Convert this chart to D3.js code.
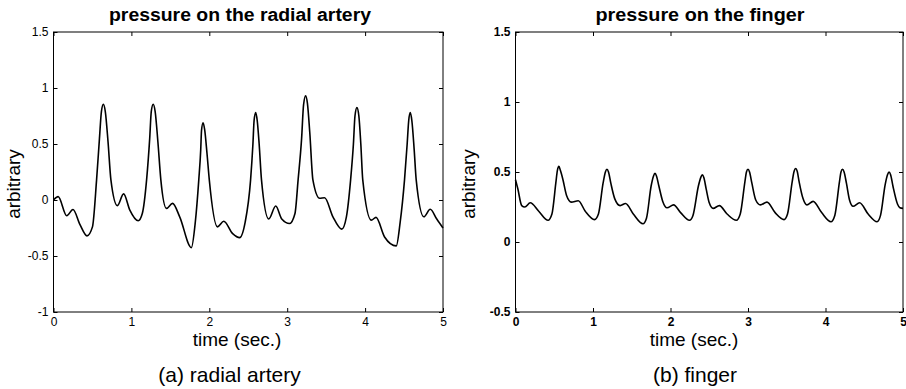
<!DOCTYPE html>
<html>
<head>
<meta charset="utf-8">
<script src="https://cdn.jsdelivr.net/npm/d3@7"></script>
<style>
  body { margin: 0; background: #fff; }
  svg { display: block; font-family: Arial, "Liberation Sans", sans-serif; }
  .tick line { stroke: #000; }
  .tick text { fill: #000; }
  .panelTitle { font-weight: bold; font-size: 18px; }
  .axisLabel { font-size: 19px; }
  .caption { font-size: 21px; }
</style>
</head>
<body>
<div id="chart"></div>
<script>
// ---- data ----
const xTicks = [0, 1, 2, 3, 4, 5];
const radialYTicks = [-1, -0.5, 0, 0.5, 1, 1.5];
const fingerYTicks = [-0.5, 0, 0.5, 1, 1.5];

const titles = ["pressure on the radial artery", "pressure on the finger"];
const captions = ["(a) radial artery", "(b) finger"];

// radial artery trace (time in s, arbitrary units)
const radialT = [0, 0.06, 0.17, 0.25, 0.34, 0.43, 0.50, 0.553, 0.59, 0.615, 0.64, 0.665, 0.70, 0.737, 0.82, 0.90, 0.98,
  1.087, 1.14, 1.195, 1.235, 1.255, 1.28, 1.305, 1.34, 1.378, 1.45, 1.528, 1.62, 1.77, 1.82,
  1.865, 1.89, 1.90, 1.92, 1.94, 1.97, 2.0,
  2.105, 2.186, 2.30, 2.39, 2.46, 2.53, 2.56, 2.575, 2.596, 2.615, 2.64, 2.67,
  2.763, 2.853, 2.93, 3.03, 3.10, 3.14, 3.185, 3.21, 3.237, 3.26, 3.29, 3.33,
  3.417, 3.48, 3.587, 3.70, 3.76, 3.814, 3.85, 3.87, 3.895, 3.92, 3.945, 3.97,
  4.08, 4.14, 4.25, 4.40, 4.45, 4.506, 4.54, 4.56, 4.58, 4.60, 4.63, 4.656,
  4.754, 4.836, 4.92, 5.0];
const radialV = [0, 0.03, -0.14, -0.085, -0.22, -0.32, -0.24, 0.18, 0.55, 0.79, 0.855, 0.79, 0.52, 0.18, -0.05, 0.055, -0.09,
  -0.185, -0.12, 0.18, 0.55, 0.79, 0.855, 0.79, 0.52, 0.18, -0.075, -0.03, -0.15, -0.425, -0.2,
  0.18, 0.45, 0.62, 0.69, 0.63, 0.42, 0.18,
  -0.24, -0.19, -0.3, -0.336, -0.2, 0.18, 0.5, 0.71, 0.78, 0.71, 0.5, 0.18,
  -0.17, -0.054, -0.17, -0.21, -0.12, 0.18, 0.55, 0.85, 0.93, 0.86, 0.6, 0.18,
  0.015, 0.02, -0.15, -0.26, -0.15, 0.18, 0.5, 0.75, 0.825, 0.75, 0.5, 0.18,
  -0.18, -0.155, -0.33, -0.41, -0.2, 0.18, 0.5, 0.71, 0.78, 0.71, 0.45, 0.18,
  -0.15, -0.083, -0.17, -0.25];

// finger trace
const fingerT = [0, 0.03, 0.08, 0.12, 0.19, 0.30, 0.42, 0.47, 0.52, 0.54, 0.56, 0.58, 0.61, 0.66, 0.72, 0.81, 0.90,
  1.02, 1.07, 1.13, 1.16, 1.18, 1.20, 1.23, 1.28, 1.35, 1.42, 1.52, 1.645, 1.69, 1.75, 1.78, 1.80, 1.82, 1.85, 1.90, 1.955,
  2.04, 2.13, 2.245, 2.29, 2.36, 2.39, 2.41, 2.43, 2.46, 2.50, 2.55, 2.63, 2.73, 2.85, 2.90, 2.96, 2.98, 3.0, 3.02, 3.05,
  3.10, 3.16, 3.245, 3.35, 3.465, 3.51, 3.57, 3.595, 3.615, 3.635, 3.66, 3.71, 3.76, 3.84, 3.95, 4.07, 4.12, 4.18, 4.20,
  4.22, 4.24, 4.27, 4.31, 4.355, 4.44, 4.55, 4.665, 4.71, 4.77, 4.80, 4.82, 4.84, 4.87, 4.93, 4.96, 5.0];
const fingerV = [0.445, 0.38, 0.26, 0.25, 0.28, 0.22, 0.155, 0.2, 0.42, 0.51, 0.54, 0.51, 0.45, 0.33, 0.285, 0.295, 0.22,
  0.16, 0.2, 0.42, 0.5, 0.52, 0.5, 0.42, 0.31, 0.26, 0.275, 0.2, 0.13, 0.17, 0.4, 0.47, 0.49, 0.47, 0.40, 0.29, 0.245,
  0.265, 0.21, 0.155, 0.19, 0.4, 0.46, 0.48, 0.46, 0.38, 0.28, 0.24, 0.26, 0.2, 0.155, 0.2, 0.43, 0.5, 0.52, 0.5, 0.42,
  0.3, 0.265, 0.285, 0.21, 0.16, 0.2, 0.43, 0.505, 0.525, 0.505, 0.43, 0.31, 0.265, 0.29, 0.21, 0.145, 0.19, 0.43, 0.5,
  0.52, 0.5, 0.42, 0.3, 0.255, 0.28, 0.2, 0.145, 0.19, 0.41, 0.48, 0.5, 0.48, 0.4, 0.27, 0.245, 0.24];

/**********************
***** BASIC SETUP *****
**********************/

const width = 906;
const height = 389;

const svg = d3.select("#chart")
  .append("svg")
  .attr("width", width)
  .attr("height", height);

function drawPanel(opts) {
  const left = opts.left, right = opts.right;
  const top = 32, bottom = 312;

  const xScale = d3.scaleLinear().domain([0, 5]).range([left, right]);
  const yScale = d3.scaleLinear().domain(opts.yDomain).range([bottom, top]);

  const g = svg.append("g").attr("class", "panel");

  // frame
  g.append("rect")
    .attr("x", left)
    .attr("y", top)
    .attr("width", right - left)
    .attr("height", bottom - top)
    .attr("fill", "none")
    .attr("stroke", "#000")
    .attr("stroke-width", 1);

  // bottom axis with labels, ticks pointing in
  g.append("g")
    .attr("transform", `translate(0, ${bottom})`)
    .call(d3.axisBottom(xScale)
      .tickValues(xTicks)
      .tickSize(-4)
      .tickPadding(5)
      .tickFormat(d => String(d)));

  // top ticks only
  g.append("g")
    .attr("transform", `translate(0, ${top})`)
    .call(d3.axisTop(xScale).tickValues(xTicks).tickSize(-4).tickFormat(""));

  // left axis with labels
  g.append("g")
    .attr("transform", `translate(${left}, 0)`)
    .call(d3.axisLeft(yScale)
      .tickValues(opts.yTicks)
      .tickSize(-4)
      .tickPadding(5)
      .tickFormat(d => String(d)));

  // right ticks only
  g.append("g")
    .attr("transform", `translate(${right}, 0)`)
    .call(d3.axisRight(yScale).tickValues(opts.yTicks).tickSize(-4).tickFormat(""));

  g.selectAll(".domain").remove();
  g.selectAll(".tick text")
    .attr("font-size", 12)
    .attr("font-family", "Arial, 'Liberation Sans', sans-serif")
    .attr("font-weight", opts.boldTicks ? "bold" : "normal");

  // the trace
  const pts = opts.t.map((t, i) => [t, opts.v[i]]);
  const line = d3.line()
    .x(d => xScale(d[0]))
    .y(d => yScale(d[1]))
    .curve(d3.curveMonotoneX);

  g.append("path")
    .datum(pts)
    .attr("d", line)
    .attr("fill", "none")
    .attr("stroke", "#000")
    .attr("stroke-width", 1.6)
    .attr("stroke-linejoin", "round");

  // title
  g.append("text")
    .attr("class", "panelTitle")
    .attr("x", opts.titleX)
    .attr("y", 21)
    .attr("text-anchor", "middle")
    .attr("textLength", opts.titleLen)
    .attr("lengthAdjust", "spacingAndGlyphs")
    .text(opts.title);

  // x label
  g.append("text")
    .attr("class", "axisLabel")
    .attr("x", opts.xLabelX)
    .attr("y", 346)
    .attr("text-anchor", "middle")
    .text("time (sec.)");

  // y label
  g.append("text")
    .attr("class", "axisLabel")
    .attr("transform", `translate(${opts.yLabelX}, 184) rotate(-90)`)
    .attr("text-anchor", "middle")
    .text("arbitrary");

  // caption under the panel
  g.append("text")
    .attr("class", "caption")
    .attr("x", opts.captionX)
    .attr("y", 382)
    .attr("text-anchor", "middle")
    .text(opts.caption);
}

drawPanel({
  left: 53.5, right: 443, yDomain: [-1, 1.5], yTicks: radialYTicks,
  t: radialT, v: radialV, boldTicks: false,
  title: titles[0], titleX: 240, titleLen: 262, xLabelX: 237, yLabelX: 20, captionX: 229.5, caption: captions[0]
});

drawPanel({
  left: 515.5, right: 903, yDomain: [-0.5, 1.5], yTicks: fingerYTicks,
  t: fingerT, v: fingerV, boldTicks: true,
  title: titles[1], titleX: 700, titleLen: 209, xLabelX: 694, yLabelX: 475, captionX: 695, caption: captions[1]
});
</script>
</body>
</html>
